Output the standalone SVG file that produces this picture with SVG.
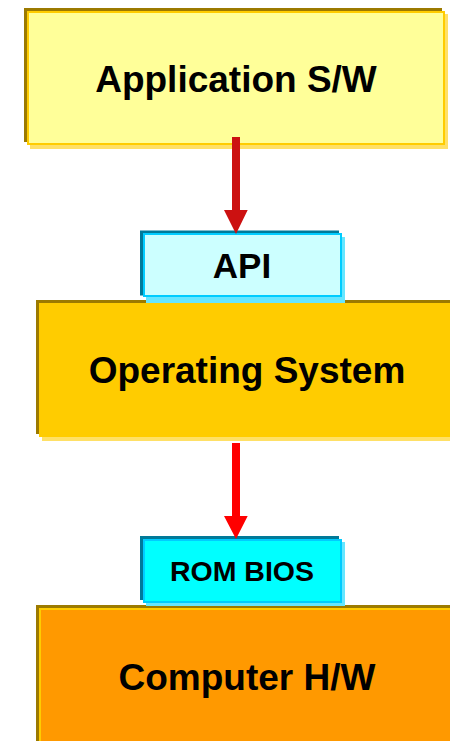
<svg xmlns="http://www.w3.org/2000/svg" width="450" height="741" viewBox="0 0 450 741">
  <style>
    .label { font-family: "Liberation Sans", Arial, sans-serif; font-weight: bold; fill: #000000; text-anchor: middle; }
    .big { font-size: 37px; }
    .mid { font-size: 35px; }
    .small { font-size: 28.5px; }
    .warm-dark { fill: #9C7A00; }
    .warm-light { fill: #FFE066; }
    .cool-dark { fill: #007A99; }
    .cool-light { fill: #66E6FF; }
  </style>
  <rect width="450" height="741" fill="#FFFFFF"/>

  <g id="application">
    <rect class="warm-light" x="30" y="14" width="418" height="135"/>
    <rect class="warm-dark" x="24" y="8" width="418" height="134"/>
    <rect x="28" y="12" width="416" height="132" fill="#FFFF99" stroke="#FFCC00" stroke-width="2"/>
    <text class="label big" x="236" y="92">Application S/W</text>
  </g>

  <g id="os">
    <rect class="warm-light" x="42" y="306" width="420" height="135"/>
    <rect class="warm-dark" x="36" y="300" width="420" height="134"/>
    <rect x="39" y="303" width="420" height="134" fill="#FFCC00"/>
    <text class="label big" x="247" y="383">Operating System</text>
  </g>

  <g id="api">
    <rect class="cool-light" x="146" y="237" width="199" height="66"/>
    <rect class="cool-dark" x="140" y="230.5" width="199" height="65"/>
    <rect x="144" y="234" width="197" height="62" fill="#CCFFFF" stroke="#00CCFF" stroke-width="2"/>
    <text class="label mid" x="242" y="278">API</text>
  </g>

  <g id="hardware">
    <rect class="warm-dark" x="36" y="605" width="420" height="140"/>
    <rect x="40" y="609" width="420" height="140" fill="#FF9900" stroke="#FFCC00" stroke-width="2"/>
    <text class="label big" x="247" y="690">Computer H/W</text>
  </g>

  <g id="rom-bios">
    <rect class="cool-light" x="146" y="542" width="199" height="64"/>
    <rect class="cool-dark" x="140" y="536" width="199" height="64"/>
    <rect x="144" y="540" width="197" height="62" fill="#00FFFF" stroke="#00CCFF" stroke-width="2"/>
    <text class="label small" x="242" y="581">ROM BIOS</text>
  </g>

  <g id="connectors">
    <path d="M232,137 H240 V210 H247.7 L236,234 L224,210 H232 Z" fill="#CC1111"/>
    <path d="M232,443 H240 V516 H247.7 L236,539 L224,516 H232 Z" fill="#FF0000"/>
  </g>
</svg>
